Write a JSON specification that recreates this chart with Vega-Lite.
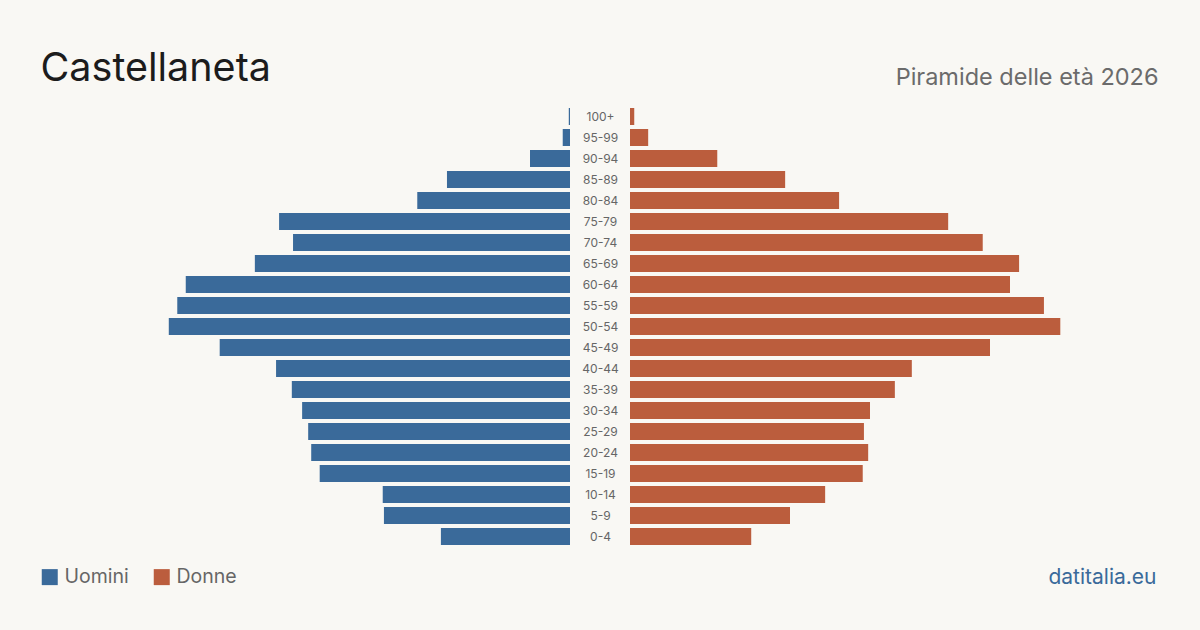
{
  "$schema": "https://vega.github.io/schema/vega-lite/v6.json",
  "width": 1200,
  "height": 630,
  "autosize": {"type": "none"},
  "padding": 0,
  "background": "#f9f8f4",
  "data": {
    "values": [
      {"eta": "100+", "sesso": "Uomini", "n": 2},
      {"eta": "95-99", "sesso": "Uomini", "n": 12},
      {"eta": "90-94", "sesso": "Uomini", "n": 66},
      {"eta": "85-89", "sesso": "Uomini", "n": 203},
      {"eta": "80-84", "sesso": "Uomini", "n": 252},
      {"eta": "75-79", "sesso": "Uomini", "n": 480},
      {"eta": "70-74", "sesso": "Uomini", "n": 457},
      {"eta": "65-69", "sesso": "Uomini", "n": 520},
      {"eta": "60-64", "sesso": "Uomini", "n": 634},
      {"eta": "55-59", "sesso": "Uomini", "n": 648},
      {"eta": "50-54", "sesso": "Uomini", "n": 662},
      {"eta": "45-49", "sesso": "Uomini", "n": 578},
      {"eta": "40-44", "sesso": "Uomini", "n": 485},
      {"eta": "35-39", "sesso": "Uomini", "n": 459},
      {"eta": "30-34", "sesso": "Uomini", "n": 442},
      {"eta": "25-29", "sesso": "Uomini", "n": 432},
      {"eta": "20-24", "sesso": "Uomini", "n": 427},
      {"eta": "15-19", "sesso": "Uomini", "n": 413},
      {"eta": "10-14", "sesso": "Uomini", "n": 309},
      {"eta": "5-9", "sesso": "Uomini", "n": 307},
      {"eta": "0-4", "sesso": "Uomini", "n": 213},
      {"eta": "100+", "sesso": "Donne", "n": 7},
      {"eta": "95-99", "sesso": "Donne", "n": 30},
      {"eta": "90-94", "sesso": "Donne", "n": 144},
      {"eta": "85-89", "sesso": "Donne", "n": 256},
      {"eta": "80-84", "sesso": "Donne", "n": 345},
      {"eta": "75-79", "sesso": "Donne", "n": 525},
      {"eta": "70-74", "sesso": "Donne", "n": 582},
      {"eta": "65-69", "sesso": "Donne", "n": 642},
      {"eta": "60-64", "sesso": "Donne", "n": 627},
      {"eta": "55-59", "sesso": "Donne", "n": 683},
      {"eta": "50-54", "sesso": "Donne", "n": 710},
      {"eta": "45-49", "sesso": "Donne", "n": 594},
      {"eta": "40-44", "sesso": "Donne", "n": 465},
      {"eta": "35-39", "sesso": "Donne", "n": 437},
      {"eta": "30-34", "sesso": "Donne", "n": 396},
      {"eta": "25-29", "sesso": "Donne", "n": 386},
      {"eta": "20-24", "sesso": "Donne", "n": 393},
      {"eta": "15-19", "sesso": "Donne", "n": 384},
      {"eta": "10-14", "sesso": "Donne", "n": 322},
      {"eta": "5-9", "sesso": "Donne", "n": 264},
      {"eta": "0-4", "sesso": "Donne", "n": 200}
    ]
  },
  "encoding": {
    "y": {
      "field": "eta",
      "type": "ordinal",
      "sort": ["100+", "95-99", "90-94", "85-89", "80-84", "75-79", "70-74", "65-69", "60-64", "55-59", "50-54", "45-49", "40-44", "35-39", "30-34", "25-29", "20-24", "15-19", "10-14", "5-9", "0-4"],
      "scale": {"range": [106, 547], "paddingInner": 0.19, "paddingOuter": 0.095},
      "axis": {
        "orient": "left",
        "offset": -600,
        "domain": false,
        "ticks": false,
        "tickSize": 0,
        "grid": false,
        "labelAlign": "center",
        "labelPadding": 0,
        "labelFontSize": 12,
        "labelColor": "#666666",
        "labelFont": "Inter",
        "title": "datitalia.eu",
        "titleAngle": 0,
        "titleX": 556,
        "titleY": 583,
        "titleAlign": "right",
        "titleBaseline": "alphabetic",
        "titleFont": "Inter",
        "titleFontSize": 21,
        "titleFontWeight": "normal",
        "titleColor": "#3a6a9a"
      }
    },
    "color": {
      "field": "sesso",
      "type": "nominal",
      "scale": {"domain": ["Uomini", "Donne"], "range": ["#3a6a9a", "#bb5d3d"]},
      "legend": {
        "orient": "none",
        "legendX": 40,
        "legendY": 567,
        "direction": "horizontal",
        "title": null,
        "symbolType": "square",
        "symbolSize": 256,
        "symbolStrokeWidth": 0,
        "symbolOpacity": 1,
        "labelFont": "Inter",
        "labelFontSize": 19.5,
        "labelColor": "#666666",
        "labelOffset": 5,
        "columnPadding": 23
      }
    }
  },
  "layer": [
    {
      "transform": [{"filter": "datum.sesso === 'Uomini'"}],
      "mark": {"type": "bar"},
      "encoding": {
        "x": {
          "field": "n",
          "type": "quantitative",
          "scale": {"domain": [0, 940.5], "range": [570, 0], "nice": false},
          "axis": {
            "orient": "top",
            "domain": false,
            "ticks": false,
            "labels": false,
            "grid": false,
            "title": "Castellaneta",
            "titleX": 40,
            "titleY": 80,
            "titleAlign": "left",
            "titleBaseline": "alphabetic",
            "titleFont": "Inter",
            "titleFontSize": 39.5,
            "titleFontWeight": "normal",
            "titleColor": "#1c1c1c"
          }
        }
      }
    },
    {
      "transform": [{"filter": "datum.sesso === 'Donne'"}],
      "mark": {"type": "bar"},
      "encoding": {
        "x": {
          "field": "n",
          "type": "quantitative",
          "scale": {"domain": [0, 940.5], "range": [630, 1200], "nice": false},
          "axis": {
            "orient": "top",
            "domain": false,
            "ticks": false,
            "labels": false,
            "grid": false,
            "title": "Piramide delle età 2026",
            "titleX": 1158,
            "titleY": 84,
            "titleAlign": "right",
            "titleBaseline": "alphabetic",
            "titleFont": "Inter",
            "titleFontSize": 23.5,
            "titleFontWeight": "normal",
            "titleColor": "#6b6b6b"
          }
        }
      }
    }
  ],
  "resolve": {"scale": {"x": "independent"}, "axis": {"x": "independent"}},
  "config": {"view": {"stroke": null}, "font": "Inter"}
}
